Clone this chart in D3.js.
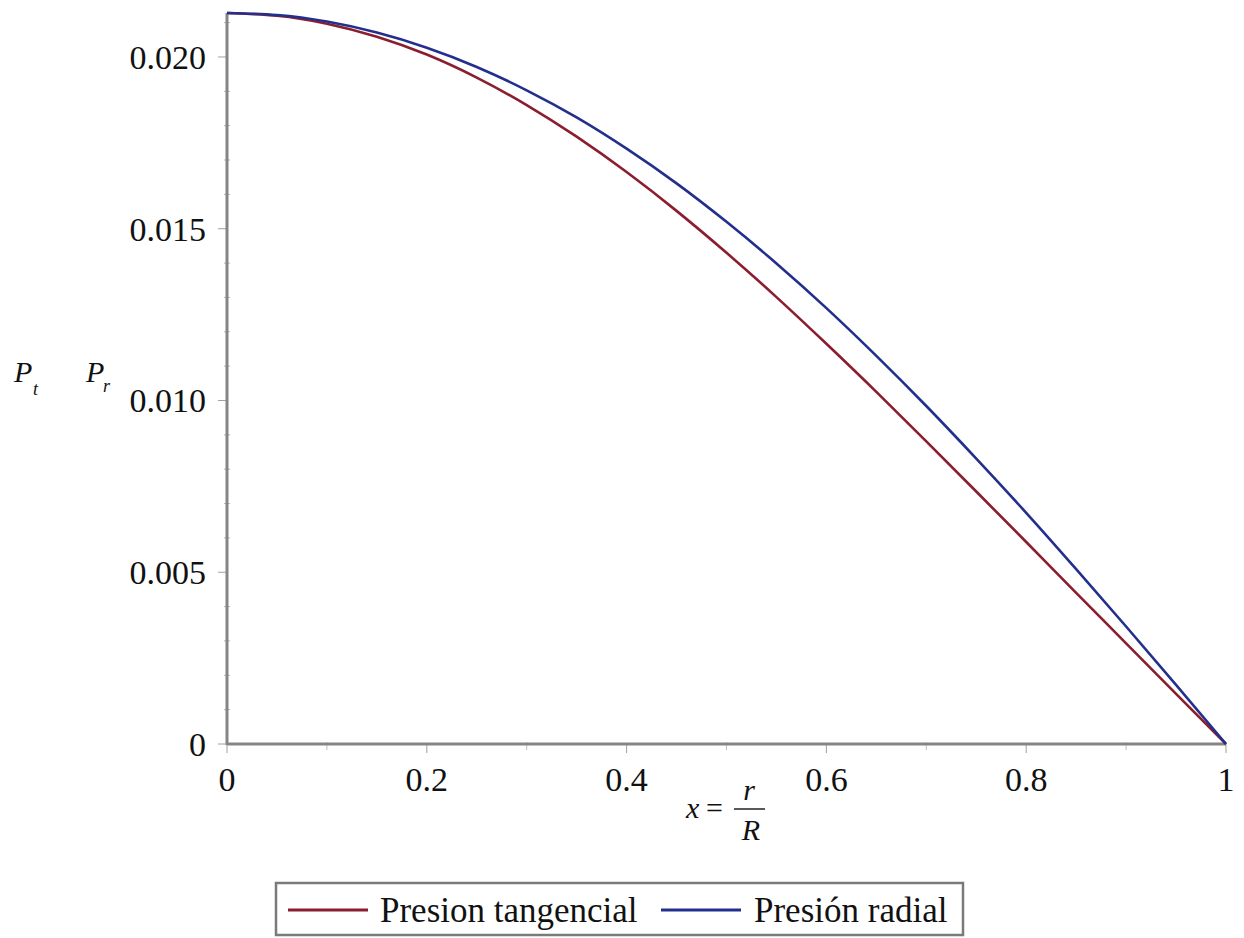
<!DOCTYPE html>
<html>
<head>
<meta charset="utf-8">
<script src="https://cdn.jsdelivr.net/npm/d3@7"></script>
<style>
  html, body { margin: 0; padding: 0; background: #fff; }
  svg { display: block; }
  text { font-family: "Liberation Serif", "DejaVu Serif", serif; fill: #111; }
</style>
</head>
<body>
<svg id="chart" width="1244" height="938"></svg>
<script>
// ---- data ----
const xValues = [0, 0.05, 0.1, 0.15, 0.2, 0.25, 0.3, 0.35, 0.4, 0.45, 0.5,
                 0.55, 0.6, 0.65, 0.7, 0.75, 0.8, 0.85, 0.9, 0.95, 1.0];
const presionTangencial = [0.02128, 0.02120, 0.02097, 0.02059, 0.02007, 0.01940, 0.01860,
                           0.01768, 0.01665, 0.01552, 0.01430, 0.01301, 0.01165, 0.01025,
                           0.00881, 0.00735, 0.00588, 0.00440, 0.00293, 0.00146, 0];
const presionRadial = [0.02128, 0.02122, 0.02103, 0.02071, 0.02027, 0.01971, 0.01903,
                       0.01824, 0.01733, 0.01632, 0.01520, 0.01399, 0.01269, 0.01130,
                       0.00984, 0.00831, 0.00673, 0.00509, 0.00342, 0.00172, 0];
const xTicks = [0, 0.2, 0.4, 0.6, 0.8, 1];
const xTickLabels = ["0", "0.2", "0.4", "0.6", "0.8", "1"];
const xMinorTicks = [0.1, 0.3, 0.5, 0.7, 0.9];
const yTicks = [0, 0.005, 0.010, 0.015, 0.020];
const yTickLabels = ["0", "0.005", "0.010", "0.015", "0.020"];
const yMinorTicks = [0.001,0.002,0.003,0.004,0.006,0.007,0.008,0.009,0.011,0.012,0.013,0.014,0.016,0.017,0.018,0.019,0.021];
const seriesNames = ["Presion tangencial", "Presión radial"];
const seriesColors = ["#8b1e2e", "#232f8c"];

const svg = d3.select("#chart");
const x = d3.scaleLinear().domain([0, 1]).range([227, 1226]);
const y = d3.scaleLinear().domain([0, d3.max(presionRadial)]).range([744, 13]);

const axisColor = "#858585";

// minor ticks
svg.append("g").selectAll("line").data(yMinorTicks).join("line")
  .attr("x1", x(0) - 3).attr("x2", x(0) + 3)
  .attr("y1", d => y(d)).attr("y2", d => y(d))
  .attr("stroke", "#b5b5b5").attr("stroke-width", 1);
svg.append("g").selectAll("line").data(xMinorTicks).join("line")
  .attr("x1", d => x(d)).attr("x2", d => x(d))
  .attr("y1", y(0) - 2).attr("y2", y(0) + 6)
  .attr("stroke", "#c0c0c0").attr("stroke-width", 1);

// major ticks
svg.append("g").selectAll("line").data(yTicks).join("line")
  .attr("x1", x(0) - 9).attr("x2", x(0))
  .attr("y1", d => y(d)).attr("y2", d => y(d))
  .attr("stroke", "#a0a0a0").attr("stroke-width", 1);
svg.append("g").selectAll("line").data(xTicks).join("line")
  .attr("x1", d => x(d)).attr("x2", d => x(d))
  .attr("y1", y(0)).attr("y2", y(0) + 9)
  .attr("stroke", "#a0a0a0").attr("stroke-width", 1);

// axis lines
svg.append("line").attr("x1", x(0)).attr("x2", x(0)).attr("y1", y(0) + 1).attr("y2", y(d3.max(presionRadial)))
  .attr("stroke", axisColor).attr("stroke-width", 3);
svg.append("line").attr("x1", x(0)).attr("x2", x(1)).attr("y1", y(0)).attr("y2", y(0))
  .attr("stroke", axisColor).attr("stroke-width", 3);

// tick labels
svg.append("g").selectAll("text").data(yTicks).join("text")
  .attr("x", 206).attr("y", d => y(d) + 12)
  .attr("text-anchor", "end").attr("font-size", 34)
  .text((d, i) => yTickLabels[i]);
svg.append("g").selectAll("text").data(xTicks).join("text")
  .attr("x", d => x(d)).attr("y", 791)
  .attr("text-anchor", "middle").attr("font-size", 34)
  .text((d, i) => xTickLabels[i]);

// curves
const line = d3.line().x((d, i) => x(xValues[i])).y(d => y(d)).curve(d3.curveNatural);
[presionTangencial, presionRadial].forEach((s, k) => {
  svg.append("path").attr("d", line(s)).attr("fill", "none")
    .attr("stroke", seriesColors[k]).attr("stroke-width", 2.6)
    .attr("stroke-linejoin", "round");
});

// y-axis label: P_t  P_r
const yl = svg.append("g").attr("font-style", "italic");
yl.append("text").attr("x", 14).attr("y", 382).attr("font-size", 30).text("P");
yl.append("text").attr("x", 33).attr("y", 395).attr("font-size", 18).text("t");
yl.append("text").attr("x", 86).attr("y", 382).attr("font-size", 30).text("P");
yl.append("text").attr("x", 103).attr("y", 392).attr("font-size", 18).text("r");

// x-axis label: x = r / R
const xl = svg.append("g");
xl.append("text").attr("x", 686).attr("y", 818).attr("font-size", 30).attr("font-style", "italic").text("x");
xl.append("text").attr("x", 706).attr("y", 818).attr("font-size", 30).text("=");
xl.append("text").attr("x", 749).attr("y", 800).attr("font-size", 30).attr("font-style", "italic").attr("text-anchor", "middle").text("r");
xl.append("line").attr("x1", 734).attr("x2", 765).attr("y1", 809).attr("y2", 809).attr("stroke", "#222").attr("stroke-width", 1.5);
xl.append("text").attr("x", 751).attr("y", 840).attr("font-size", 30).attr("font-style", "italic").attr("text-anchor", "middle").text("R");

// legend
const lg = svg.append("g");
lg.append("rect").attr("x", 276).attr("y", 883).attr("width", 687).attr("height", 52)
  .attr("fill", "#fff").attr("stroke", "#7a7a7a").attr("stroke-width", 2.5);
const legendItems = [
  { x1: 288, x2: 368, tx: 380 },
  { x1: 661, x2: 741, tx: 754 }
];
legendItems.forEach((it, k) => {
  lg.append("line").attr("x1", it.x1).attr("x2", it.x2).attr("y1", 910).attr("y2", 910)
    .attr("stroke", seriesColors[k]).attr("stroke-width", 3);
  lg.append("text").attr("x", it.tx).attr("y", 922).attr("font-size", 35).text(seriesNames[k]);
});
</script>
</body>
</html>
